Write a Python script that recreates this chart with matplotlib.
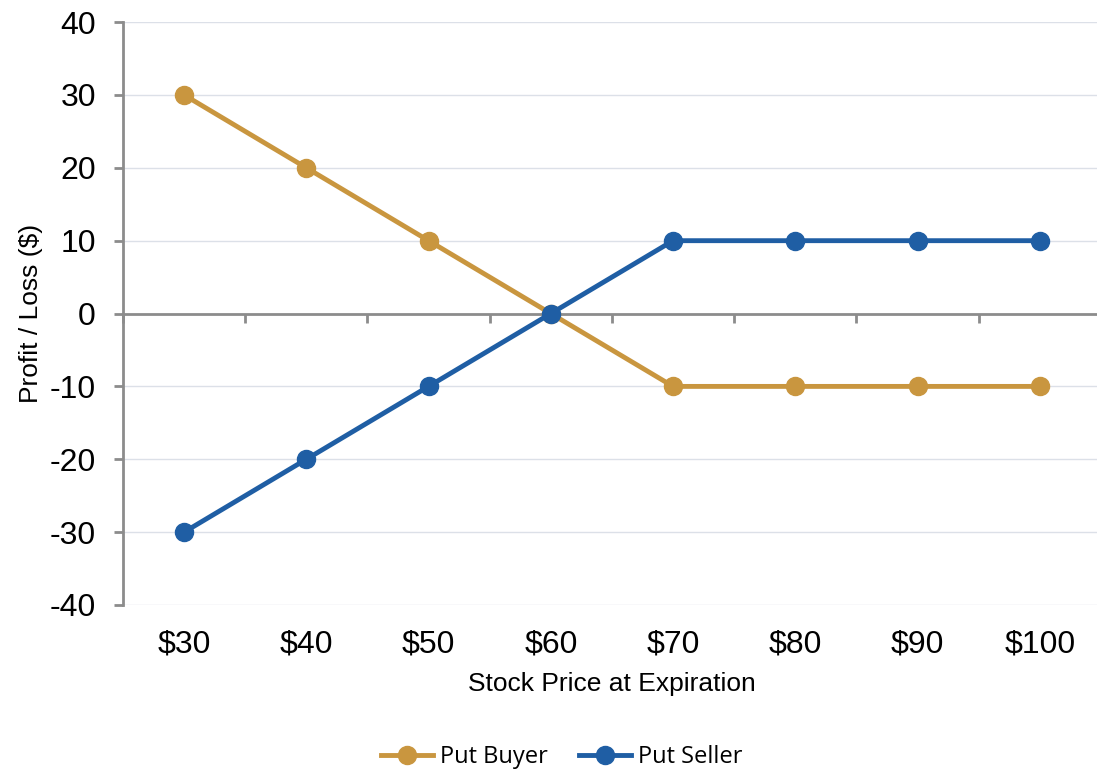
import matplotlib.pyplot as plt
import numpy as np

# stock price at expiration and profit/loss for each side of the put
prices = ["$30", "$40", "$50", "$60", "$70", "$80", "$90", "$100"]
put_buyer = [30, 20, 10, 0, -10, -10, -10, -10]
put_seller = [-30, -20, -10, 0, 10, 10, 10, 10]
y_ticks = [-40, -30, -20, -10, 0, 10, 20, 30, 40]

gold = "#C9963F"
blue = "#1F5EA4"
axis_gray = "#8C8C8C"

plt.rcParams['font.family'] = ['Liberation Sans', 'DejaVu Sans']

fig = plt.figure(figsize=(10.97, 7.70), dpi=100)
ax = fig.add_axes([0.1121, 0.2143, 0.8915, 0.757])

x = np.arange(len(prices))
ax.plot(x, put_buyer, color=gold, lw=3.5, marker='o', ms=13, label='Put Buyer', zorder=3)
ax.plot(x, put_seller, color=blue, lw=3.5, marker='o', ms=13, label='Put Seller', zorder=4)

ax.set_xlim(-0.5, len(prices) - 0.5)
ax.set_ylim(-40, 40)
ax.set_yticks(y_ticks)
ax.set_yticklabels([str(v) for v in y_ticks])
ax.set_xticks(x)
ax.set_xticklabels(prices)

# light gridlines, value axis on the left
for v in y_ticks:
    if v != 0:
        ax.axhline(v, color="#DCE0E8", lw=1, zorder=0)
for s in ['top', 'right', 'bottom']:
    ax.spines[s].set_visible(False)
ax.spines['left'].set_color(axis_gray)
ax.spines['left'].set_linewidth(2)
ax.tick_params(axis='y', length=6.5, width=2, color=axis_gray, pad=13, labelsize=23)
ax.tick_params(axis='x', length=0, pad=18, labelsize=23)

# category axis line sits at zero, tick marks between categories
zero = ax.secondary_xaxis(0, transform=ax.transData)
zero.spines['bottom'].set_color(axis_gray)
zero.spines['bottom'].set_linewidth(2)
zero.set_xticks(np.arange(len(prices) + 1) - 0.5)
zero.set_xticklabels([])
zero.tick_params(axis='x', length=6.5, width=2, color=axis_gray)

ax.set_xlabel('Stock Price at Expiration', fontsize=19, labelpad=9)
ax.set_ylabel('Profit / Loss ($)', fontsize=19, labelpad=5)

fig.legend(loc='center', bbox_to_anchor=(562 / 1097, 1 - 757 / 770), ncol=2, frameon=False,
           prop={'family': 'Open Sans', 'size': 17}, handlelength=2.2, handletextpad=0.3,
           columnspacing=1.3)

fig.savefig('out.png', dpi=100)
